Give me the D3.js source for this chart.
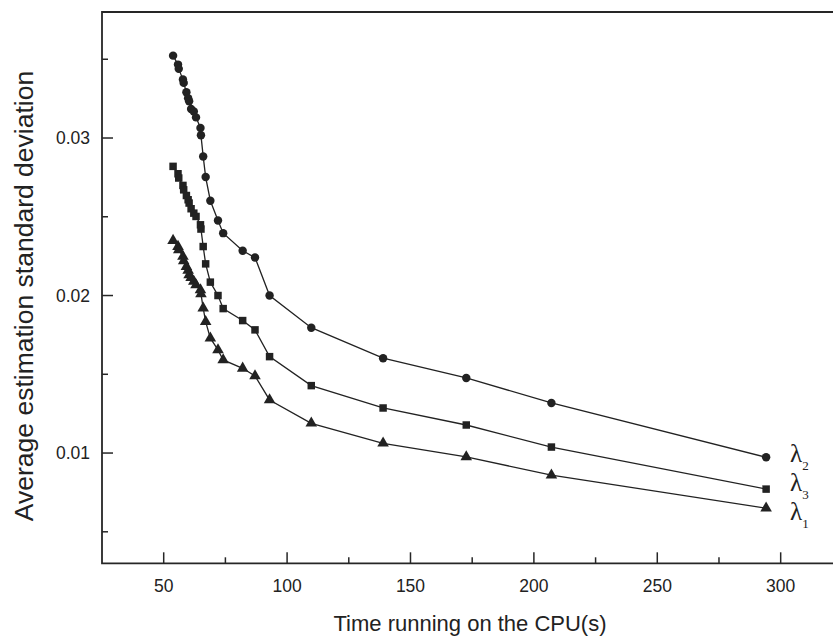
<!DOCTYPE html>
<html>
<head>
<meta charset="utf-8">
<script src="https://cdn.jsdelivr.net/npm/d3@7"></script>
<style>
  html, body { margin: 0; padding: 0; background: #fff; }
  svg { display: block; }
</style>
</head>
<body>
<svg id="chart" width="833" height="638"></svg>
<script>
// CPU time (s) for each run, shared by the three estimates
const cpuTime = [53.8, 55.8, 56.1, 57.8, 58.1, 59.2, 59.9, 60.3, 61.1, 62.2, 63.1, 64.9, 65.1,
  66.0, 67.0, 68.9, 72.0, 74.1, 82.0, 87.0, 92.9, 109.8, 138.9, 172.6, 207.1, 294.1];

const lambda2 = [0.03523, 0.03466, 0.03439, 0.03371, 0.03350, 0.03290, 0.03252, 0.03233, 0.03184,
  0.03169, 0.03131, 0.03064, 0.03017, 0.02883, 0.02752, 0.02602, 0.02476, 0.02396, 0.02284,
  0.02241, 0.02000, 0.01796, 0.01602, 0.01477, 0.01318, 0.00973];

const lambda3 = [0.02820, 0.02773, 0.02746, 0.02699, 0.02671, 0.02635, 0.02608, 0.02587, 0.02551,
  0.02523, 0.02502, 0.02449, 0.02422, 0.02311, 0.02201, 0.02085, 0.02000, 0.01917, 0.01841,
  0.01782, 0.01612, 0.01428, 0.01286, 0.01178, 0.01038, 0.00771];

const lambda1 = [0.02349, 0.02311, 0.02290, 0.02248, 0.02220, 0.02184, 0.02159, 0.02131, 0.02114,
  0.02089, 0.02068, 0.02036, 0.02010, 0.01920, 0.01834, 0.01729, 0.01655, 0.01591, 0.01538,
  0.01489, 0.01337, 0.01189, 0.01062, 0.00975, 0.00860, 0.00650];

const xTicks = [50, 100, 150, 200, 250, 300];
const xMinor = [75, 125, 175, 225, 275];
const yTicks = [0.01, 0.02, 0.03];
const yMinor = [0.005, 0.015, 0.025, 0.035];

const series = [
  { name: '2', values: lambda2, symbol: d3.symbolCircle, size: 56 },
  { name: '3', values: lambda3, symbol: d3.symbolSquare, size: 56 },
  { name: '1', values: lambda1, symbol: d3.symbolTriangle, size: 58 },
];

(function () {
  const svg = d3.select('#chart');
  const L = 102, R = 833, T = 12, B = 563.3;
  const ink = '#222';

  const x = d3.scaleLinear().domain([25, 321.2]).range([L, R]);
  const y = d3.scaleLinear().domain([0.003, 0.038]).range([B, T]);

  // frame: left, top, bottom (right side is cut off in the original)
  svg.append('path')
    .attr('d', `M${R},${T}H${L}V${B}H${R}`)
    .attr('stroke', '#262626').attr('stroke-width', 1.8).attr('fill', 'none');

  // ticks point inward
  const ticks = svg.append('g').attr('stroke', '#262626').attr('stroke-width', 1.5);
  ticks.append('g').selectAll('line').data(xTicks).join('line')
    .attr('x1', d => x(d)).attr('x2', d => x(d)).attr('y1', B).attr('y2', B - 11);
  ticks.append('g').selectAll('line').data(xMinor).join('line')
    .attr('x1', d => x(d)).attr('x2', d => x(d)).attr('y1', B).attr('y2', B - 6);
  ticks.append('g').selectAll('line').data(yTicks).join('line')
    .attr('y1', d => y(d)).attr('y2', d => y(d)).attr('x1', L).attr('x2', L + 11);
  ticks.append('g').selectAll('line').data(yMinor).join('line')
    .attr('y1', d => y(d)).attr('y2', d => y(d)).attr('x1', L).attr('x2', L + 6);

  const font = '"Liberation Sans", Arial, sans-serif';
  svg.append('g').selectAll('text').data(xTicks).join('text')
    .attr('x', d => x(d)).attr('y', B + 29)
    .attr('text-anchor', 'middle').attr('font-family', font).attr('font-size', 17.5)
    .attr('fill', ink).text(d => d);
  svg.append('g').selectAll('text').data(yTicks).join('text')
    .attr('x', L - 12).attr('y', d => y(d) + 6)
    .attr('text-anchor', 'end').attr('font-family', font).attr('font-size', 17.5)
    .attr('fill', ink).text(d => d3.format('.2f')(d));

  svg.append('text')
    .attr('x', 470).attr('y', 631)
    .attr('text-anchor', 'middle').attr('font-family', font).attr('font-size', 22)
    .attr('fill', ink).text('Time running on the CPU(s)');
  svg.append('text')
    .attr('transform', 'translate(33,296) rotate(-90)')
    .attr('text-anchor', 'middle').attr('font-family', font).attr('font-size', 26.5)
    .attr('fill', ink).text('Average estimation standard deviation');

  // lines + markers
  const line = d3.line().x((d, i) => x(cpuTime[i])).y(d => y(d));
  const plot = svg.append('g');
  for (const s of series) {
    plot.append('path').datum(s.values)
      .attr('d', line).attr('fill', 'none').attr('stroke', ink).attr('stroke-width', 1.3);
    plot.append('g').selectAll('path').data(s.values).join('path')
      .attr('transform', (d, i) => `translate(${x(cpuTime[i])},${y(d)})`)
      .attr('d', d3.symbol().type(s.symbol).size(s.size))
      .attr('fill', ink);
  }

  // series labels at the right end: λ with subscript
  const labelY = { '2': 462, '3': 491, '1': 520 };
  const lab = svg.append('g');
  for (const s of series) {
    const t = lab.append('text')
      .attr('x', 790).attr('y', labelY[s.name])
      .attr('font-family', '"Liberation Serif", "Times New Roman", serif')
      .attr('font-size', 25).attr('fill', ink);
    t.append('tspan').text('λ');
    t.append('tspan').attr('font-size', 13).attr('dy', 8).text(s.name);
  }
})();
</script>
</body>
</html>
